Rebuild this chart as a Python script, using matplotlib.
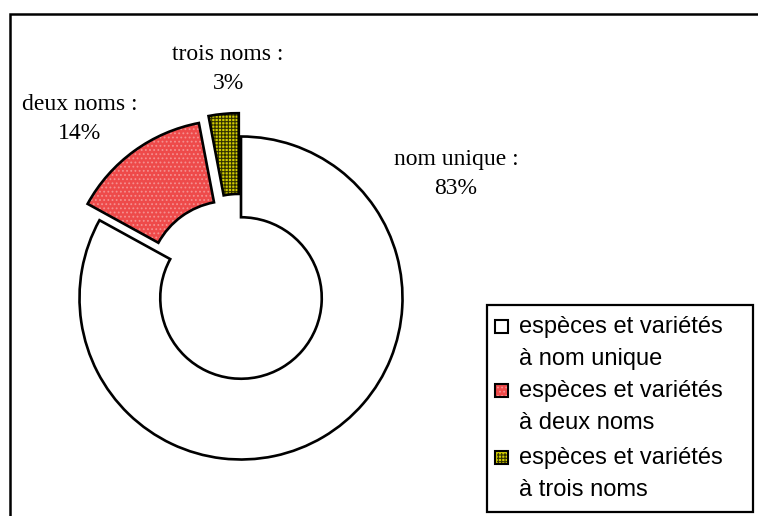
import matplotlib
matplotlib.use("Agg")
import matplotlib.pyplot as plt
from matplotlib.patches import Rectangle

# Répartition des espèces et variétés selon le nombre de noms
categories = ["nom unique", "deux noms", "trois noms"]
percentages = [83, 14, 3]
legend_labels = [
    "espèces et variétés\nà nom unique",
    "espèces et variétés\nà deux noms",
    "espèces et variétés\nà trois noms",
]

W, H = 758, 516
fig = plt.figure(figsize=(W / 100, H / 100), dpi=100)
fig.patch.set_facecolor("white")


def fx(x):
    return x / W


def fy(y):
    return 1 - y / H


# outer chart frame (runs off the right and bottom edges)
fig.patches.append(Rectangle((fx(10), fy(560)), 1.2, fy(13.5) - fy(560),
                             transform=fig.transFigure, fill=False,
                             edgecolor="black", linewidth=1.8))

# pie axes: centre at (241, 298) px, outer radius 161.5 px
R = 161.5
span = 1.5 * R
ax = fig.add_axes([fx(241 - span), fy(298 + span), 2 * span / W, 2 * span / H])

faces = ["white", "#EE4A4A", "#D2CC00"]
hatches = [None, "....", "+++++"]
hatch_cols = ["white", "#F49090", "#333300"]
explode = [0, 0.125, 0.145]

# fill + hatch first, then black outlines on top
plt.rcParams["hatch.linewidth"] = 0.8
wedges, _ = ax.pie(percentages, explode=explode, startangle=90,
                   counterclock=False, radius=1,
                   wedgeprops=dict(width=0.5, linewidth=0))
for w, fc, h, hc in zip(wedges, faces, hatches, hatch_cols):
    w.set_facecolor(fc)
    w.set_edgecolor(hc)
    if h:
        w.set_hatch(h)

outline, _ = ax.pie(percentages, explode=explode, startangle=90,
                    counterclock=False, radius=1,
                    wedgeprops=dict(width=0.5, fill=False,
                                    edgecolor="black", linewidth=1.9))
ax.set_xlim(-1.5, 1.5)
ax.set_ylim(-1.5, 1.5)
ax.set_aspect("equal")
ax.axis("off")

# data labels
serif = ["Liberation Serif", "DejaVu Serif"]
label_pos = [(456, 174), (80, 119), (228, 69)]
for cat, pct, (x, y) in zip(categories, percentages, label_pos):
    fig.text(fx(x), fy(y), f"{cat} :\n{pct}%", ha="center", va="center",
             fontsize=17, family=serif, linespacing=1.45)

# legend box
fig.patches.append(Rectangle((fx(487), fy(512)), fx(753) - fx(487),
                             fy(305) - fy(512), transform=fig.transFigure,
                             facecolor="white", edgecolor="black",
                             linewidth=1.6, zorder=5))
sans = ["Liberation Sans", "DejaVu Sans"]
entry_y = [327, 391, 458]
for lab, fc, h, hc, y in zip(legend_labels, faces, hatches, hatch_cols, entry_y):
    sq = Rectangle((fx(495), fy(y + 6)), fx(508) - fx(495), fy(y - 7) - fy(y + 6),
                   transform=fig.transFigure, facecolor=fc, edgecolor="black",
                   linewidth=1.5, zorder=6)
    fig.patches.append(sq)
    if h:
        sq2 = Rectangle((fx(496.5), fy(y + 4.5)), fx(506.5) - fx(496.5),
                        fy(y - 5.5) - fy(y + 4.5), transform=fig.transFigure,
                        facecolor=fc, edgecolor=hc, hatch=h, linewidth=0,
                        zorder=7)
        fig.patches.append(sq2)
    line1, line2 = lab.split("\n")
    fig.text(fx(519), fy(y), line1, ha="left", va="center", fontsize=17,
             family=sans, zorder=8)
    fig.text(fx(519), fy(y + 32), line2, ha="left", va="center", fontsize=17,
             family=sans, zorder=8)

fig.savefig("out.png", dpi=100)
